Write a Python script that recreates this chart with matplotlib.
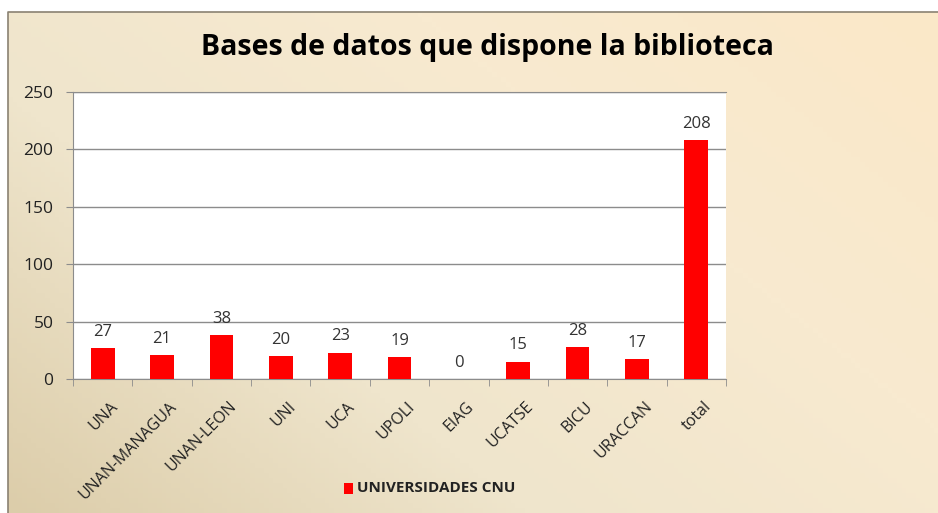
import numpy as np
import matplotlib
matplotlib.use("Agg")
import matplotlib.pyplot as plt
from matplotlib.colors import LinearSegmentedColormap
from matplotlib.patches import Rectangle
import matplotlib.transforms as mtransforms

categories = ["UNA", "UNAN-MANAGUA", "UNAN-LEON", "UNI", "UCA", "UPOLI",
              "EIAG", "UCATSE", "BICU", "URACCAN", "total"]
values = [27, 21, 38, 20, 23, 19, 0, 15, 28, 17, 208]
yticks = [0, 50, 100, 150, 200, 250]
title = "Bases de datos que dispone la biblioteca"
series_name = "UNIVERSIDADES CNU"

W, H = 938, 513
fig = plt.figure(figsize=(W / 100, H / 100), dpi=100)
fig.patch.set_facecolor("white")

# background gradient frame
bg = fig.add_axes([8 / W, 0, 1 - 8 / W, 1 - 12 / H])
bg.set_axis_off()
nx, ny = 200, 100
xx, yy = np.meshgrid(np.linspace(0, 1, nx), np.linspace(0, 1, ny))
t = np.clip(0.6 * xx + 0.4 * yy, 0, 1)
cmap = LinearSegmentedColormap.from_list("bg", ["#dccdaa", "#efe5cc", "#f8ead0", "#fbe8c8"])
bg.imshow(t, cmap=cmap, origin="lower", extent=[0, 1, 0, 1], aspect="auto")
bg.set_xlim(0, 1)
bg.set_ylim(0, 1)
bg.plot([0, 0, 1], [0, 1, 1], color="#8a8272", lw=1.2, transform=bg.transAxes, clip_on=False)

font = "Open Sans"

left, right = 73, 726
top, bottom = 92, 379
ax = fig.add_axes([left / W, 1 - bottom / H, (right - left) / W, (bottom - top) / H])
ax.set_facecolor("white")
x = np.arange(len(categories))
ax.bar(x, values, width=0.4, color="#ff0000", zorder=3)
ax.set_xlim(-0.5, len(categories) - 0.5)
ax.set_ylim(0, 250)
ax.set_yticks(yticks)
ax.yaxis.grid(True, color="#8c8c8c", lw=1.0, zorder=0)
for s in ["left", "bottom", "top"]:
    ax.spines[s].set_color("#8c8c8c")
ax.spines["right"].set_visible(False)
ax.tick_params(axis="y", length=5, color="#8c8c8c", labelsize=12.5, labelcolor="#222222", pad=9)
ax.set_xticks(np.arange(len(categories) + 1) - 0.5, minor=True)
ax.tick_params(axis="x", which="minor", length=5, color="#8c8c8c", direction="out")
ax.set_xticks(x)
ax.set_xticklabels(categories, rotation=45, ha="right", rotation_mode="anchor", fontsize=11.5, color="#222222")
ax.tick_params(axis="x", which="major", length=0, pad=14)
offset = mtransforms.ScaledTranslation(7 / 100, 0, fig.dpi_scale_trans)
for lab in ax.get_xticklabels():
    lab.set_transform(lab.get_transform() + offset)
for lab in ax.get_xticklabels() + ax.get_yticklabels():
    lab.set_family(font)

for xi, v in zip(x, values):
    ax.annotate(str(v), (xi, v), xytext=(0, 6), textcoords="offset points",
                ha="center", va="bottom", fontsize=12, color="#333333", family=font)

fig.text(487 / W, 1 - 48 / H, title, ha="center", va="center", fontsize=20.5,
         fontweight="bold", family=font, color="black")

# legend
fig.patches.append(Rectangle((344 / W, 1 - 494 / H), 9 / W, 11 / H, transform=fig.transFigure,
                             facecolor="#ff0000", edgecolor="none"))
fig.text(357 / W, 1 - 488.5 / H, series_name, ha="left", va="center", fontsize=11,
         fontweight="bold", family=font, color="#222222")

fig.savefig("out.png", dpi=100, facecolor=fig.get_facecolor())
